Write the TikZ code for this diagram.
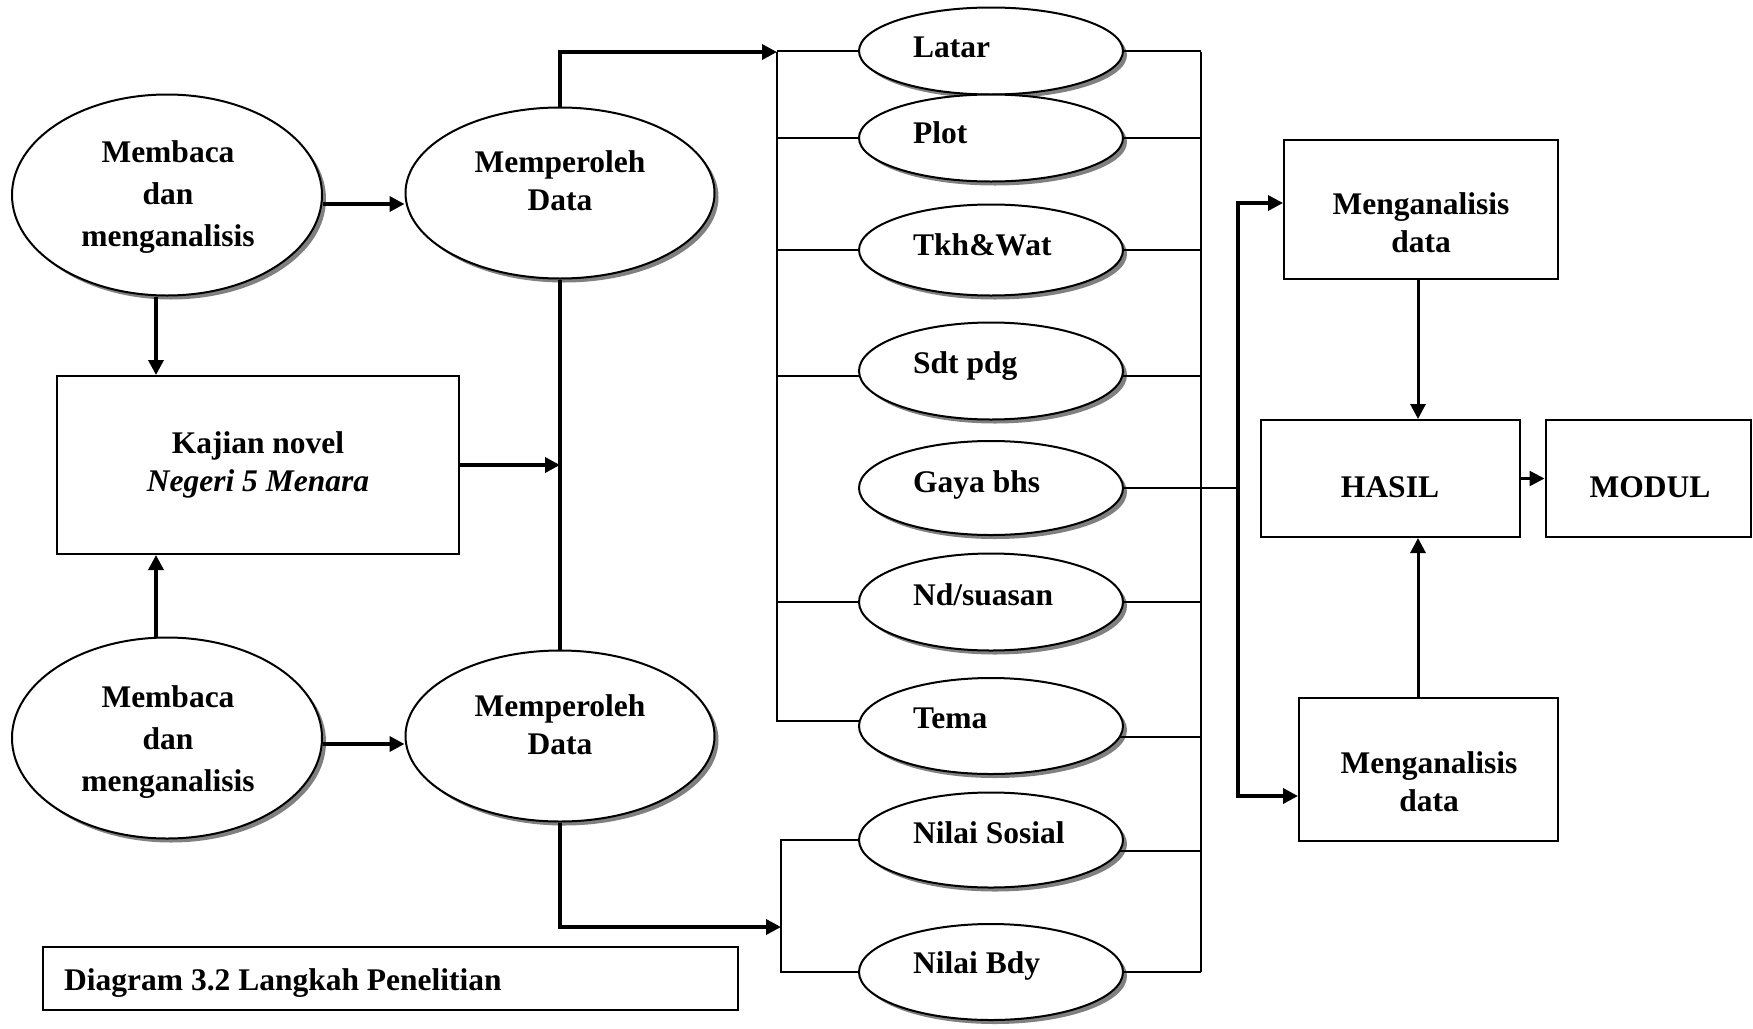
\documentclass[tikz,border=0pt]{standalone}
\usepackage{fontspec}
\setmainfont{Liberation Serif}
\usetikzlibrary{shapes.geometric,shadows,arrows.meta}
\begin{document}
\begin{tikzpicture}[x=1pt,y=-1pt,
  ln/.style={line width=2pt},
  thk/.style={line width=3.5pt},
  arr/.style={thk,-{Triangle[length=15pt,width=15pt]}},
  ell/.style={ellipse,draw,line width=2pt,fill=white,inner sep=0pt,
    drop shadow={shadow xshift=4pt,shadow yshift=-4pt,fill=black!50,opacity=1}},
  sel/.style={ell,minimum width=264pt,minimum height=95pt},
  box/.style={rectangle,draw,line width=2pt,inner sep=0pt,fill=white},
  txt/.style={inner sep=0pt,align=center,font=\fontsize{31.5}{38}\selectfont\bfseries},
  stxt/.style={txt,anchor=base west}]
\useasboundingbox (0,0) rectangle (1753,1028);

% left column
\node[ell,minimum width=310pt,minimum height=201pt] (m1) at (167,195) {};
\node[txt] (m1t) at (168,197.5) {Membaca\\[4pt]dan\\[4pt]menganalisis};
\node[ell,minimum width=309pt,minimum height=171pt] (mp1) at (560,193) {};
\node[txt] (mp1t) at (560,180.5) {Memperoleh\\Data};
\node[box,minimum width=402pt,minimum height=178pt] (kaj) at (258,465) {};
\node[txt] (kajt) at (258,464.5) {Kajian novel\\{\itshape Negeri 5 Menara}};
\node[ell,minimum width=310pt,minimum height=201pt] (m2) at (167,738) {};
\node[txt] (m2t) at (168,742) {Membaca\\[4pt]dan\\[4pt]menganalisis};
\node[ell,minimum width=309pt,minimum height=171pt] (mp2) at (560,736) {};
\node[txt] (mp2t) at (560,725) {Memperoleh\\Data};
\node[box,minimum width=695pt,minimum height=63pt] (cap) at (390.5,978.5) {};
\node[stxt] (capt) at (64,990) {Diagram 3.2 Langkah Penelitian};

% small ellipses
\node[sel,minimum height=87pt] (lat) at (991,51) {};
\node[stxt] (latt) at (913,57) {Latar};
\node[sel,minimum height=87pt] (plo) at (991,138) {};
\node[stxt] (plot) at (913,143) {Plot};
\node[sel,minimum height=91pt] (tkh) at (991,250) {};
\node[stxt] (tkht) at (913,255) {Tkh\&Wat};
\node[sel,minimum height=97pt] (sdt) at (991,371) {};
\node[stxt] (sdtt) at (913,373) {Sdt pdg};
\node[sel,minimum height=94pt] (gay) at (991,488) {};
\node[stxt] (gayt) at (913,492) {Gaya bhs};
\node[sel,minimum height=97pt] (nds) at (991,602) {};
\node[stxt] (ndst) at (913,605) {Nd/suasan};
\node[sel,minimum height=96pt] (tem) at (991,726) {};
\node[stxt] (temt) at (913,728) {Tema};
\node[sel,minimum height=95pt] (nso) at (991,840) {};
\node[stxt] (nsot) at (913,843) {Nilai Sosial};
\node[sel,minimum height=96pt] (nbd) at (991,972) {};
\node[stxt] (nbdt) at (913,973) {Nilai Bdy};

% right boxes
\node[box,minimum width=274pt,minimum height=139pt] (ma1) at (1421,209.5) {};
\node[txt] (ma1t) at (1421,222.5) {Menganalisis\\data};
\node[box,minimum width=259pt,minimum height=117pt] (has) at (1390.5,478.5) {};
\node[txt] (hast) at (1390,487) {HASIL};
\node[box,minimum width=205pt,minimum height=117pt] (mod) at (1648,478.5) {};
\node[txt] (modt) at (1650,487.5) {MODUL};
\node[box,minimum width=259pt,minimum height=143pt] (ma2) at (1428.5,769.5) {};
\node[txt] (ma2t) at (1429,781.5) {Menganalisis\\data};

% coordinates
\coordinate (busL) at (777,52);
\coordinate (busLe) at (777,722);
\coordinate (busR) at (1201,52);
\coordinate (busRe) at (1201,972);
\coordinate (busN) at (781,927);
\coordinate (tb1) at (1238,203);
\coordinate (tb2) at (1238,796);

% left connectors
\draw[arr] ([xshift=-11pt]m1.south) -- ([xshift=-11pt]m1.south |- kaj.north);
\draw[arr] ([xshift=-11pt]m2.north) -- ([xshift=-11pt]m2.north |- kaj.south);
\draw[arr] ([yshift=-9pt]m1.east) -- ([yshift=-9pt]m1.east -| mp1.west);
\draw[arr] ([yshift=-6pt]m2.east) -- ([yshift=-6pt]m2.east -| mp2.west);
\draw[arr] (mp1.north) |- (busL);
\draw[thk] (mp1.south) -- (mp2.north);
\draw[arr] (kaj.east) -- (kaj.east -| mp1.south);
\draw[arr] (mp2.south) |- (busN);

% buses
\draw[ln] (busL) -- (busLe);
\draw[ln] (busR) -- (busRe);
\draw[ln] (lat.west) -- (lat.west -| busL);
\draw[ln] (plo.west) -- (plo.west -| busL);
\draw[ln] (tkh.west) -- (tkh.west -| busL);
\draw[ln] (sdt.182) -- (sdt.182 -| busL);
\draw[ln] (nds.west) -- (nds.west -| busL);
\draw[ln] (tem.178) -- (tem.178 -| busL);
\draw[ln] (lat.east) -- (lat.east -| busR);
\draw[ln] (plo.east) -- (plo.east -| busR);
\draw[ln] (tkh.east) -- (tkh.east -| busR);
\draw[ln] (sdt.-2) -- (sdt.-2 -| busR);
\draw[ln] (nds.east) -- (nds.east -| busR);
\draw[ln] (tem.-5.2) -- (tem.-5.2 -| busR);
\draw[ln] (nso.-5.6) -- (nso.-5.6 -| busR);
\draw[ln] (nbd.east) -- (nbd.east -| busR);
\draw[ln] (nso.west) -| (busN) |- (nbd.west);
\draw[ln] (gay.east) -- (gay.east -| tb1);

% right connectors
\draw[arr] (tb2) -- (tb1) -- (tb1 -| ma1.west);
\draw[arr] (tb1) -- (tb2) -- (tb2 -| ma2.west);
\draw[arr,line width=3pt] ([xshift=-3pt]ma1.south) -- ([xshift=-3pt]ma1.south |- has.north);
\draw[arr,line width=3pt] ([xshift=-3pt]ma1.south |- ma2.north) -- ([xshift=-3pt]ma1.south |- has.south);
\draw[arr,line width=2.5pt] (has.east) -- (mod.west);
\end{tikzpicture}
\end{document}
